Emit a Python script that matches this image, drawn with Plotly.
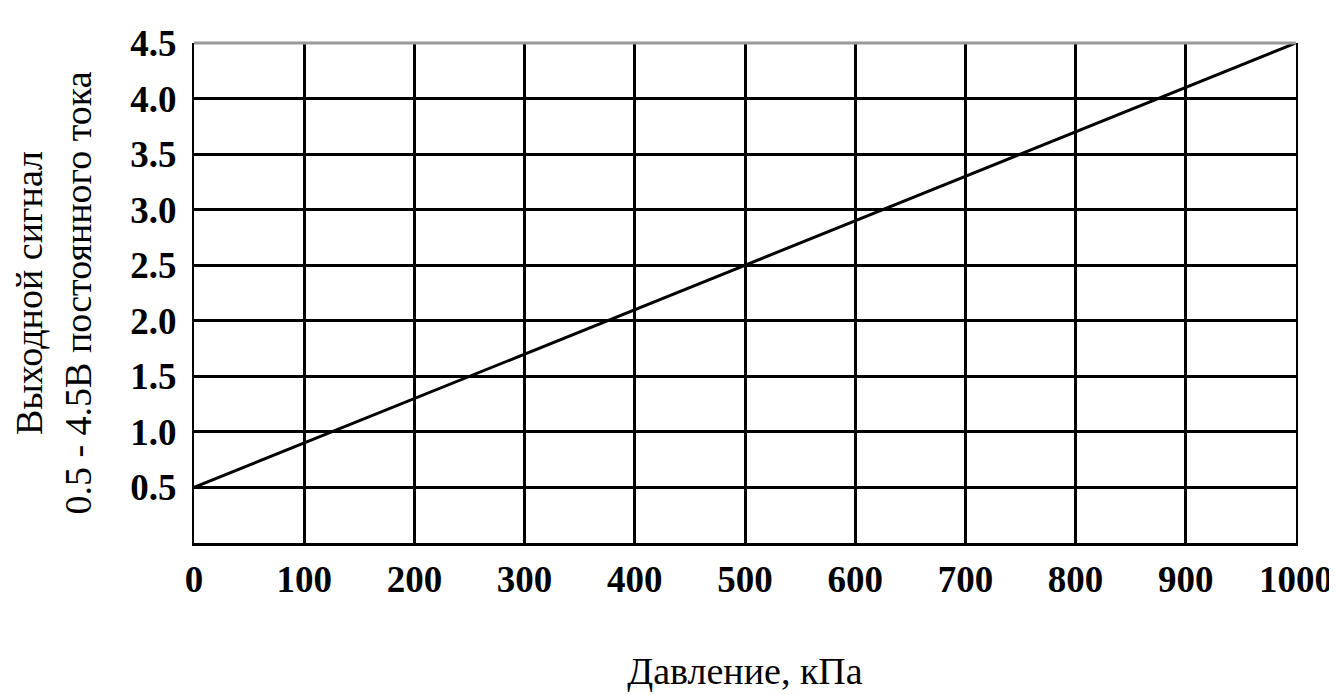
import plotly.graph_objects as go

pressure_kpa = [0, 1000]
signal_v = [0.5, 4.5]
x_ticks = [0, 100, 200, 300, 400, 500, 600, 700, 800, 900, 1000]
x_tick_labels = ["0", "100", "200", "300", "400", "500", "600", "700", "800", "900", "1000"]
y_ticks = [0.5, 1.0, 1.5, 2.0, 2.5, 3.0, 3.5, 4.0, 4.5]
y_tick_labels = ["0.5", "1.0", "1.5", "2.0", "2.5", "3.0", "3.5", "4.0", "4.5"]

serif = "Liberation Serif"

fig = go.Figure()
fig.add_trace(go.Scatter(x=pressure_kpa, y=signal_v, mode="lines",
                         line=dict(color="black", width=3), showlegend=False,
                         hoverinfo="skip"))

fig.update_layout(
    width=1337, height=695,
    margin=dict(l=186, r=44, t=35, b=160),
    paper_bgcolor="white", plot_bgcolor="white",
    xaxis=dict(range=[0, 1000], tickvals=x_ticks, ticktext=x_tick_labels,
               showgrid=True, gridcolor="black", gridwidth=3,
               showline=True, linecolor="black", linewidth=3,
               zeroline=False, ticks="", ticklabelstandoff=2,
               tickfont=dict(family=serif, size=37, color="black", weight="bold"),
               title=dict(text="Давление, кПа", standoff=58,
                          font=dict(family=serif, size=38, color="black"))),
    yaxis=dict(range=[0, 4.5], tickvals=y_ticks, ticktext=y_tick_labels,
               showgrid=True, gridcolor="black", gridwidth=3,
               showline=True, linecolor="black", linewidth=2, mirror=True,
               zeroline=False, ticks="", ticklabelstandoff=8,
               tickfont=dict(family=serif, size=37, color="black", weight="bold"),
               title=dict(text="Выходной сигнал<br>0.5 - 4.5В постоянного тока", standoff=32,
                          font=dict(family=serif, size=38, color="black"))),
    shapes=[dict(type="line", xref="paper", yref="paper", x0=0, x1=1, y0=1, y1=1,
                 line=dict(color="#999999", width=3))],
)

fig.write_html("out.html")
